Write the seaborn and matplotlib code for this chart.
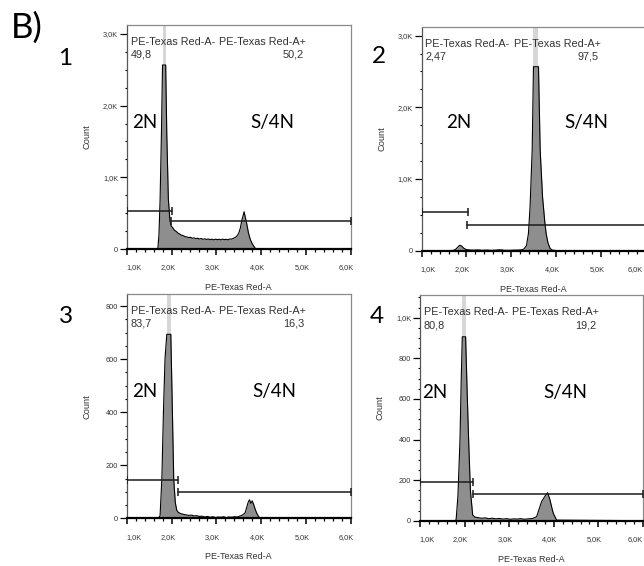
import matplotlib
matplotlib.use("Agg")
import matplotlib.pyplot as plt
import matplotlib.ticker as mticker
import matplotlib.transforms as mtransforms
import pandas as pd
import seaborn as sns

# ---------------- data ----------------
panel_ids = ["1", "2", "3", "4"]
gate_names = ["PE-Texas Red-A-", "PE-Texas Red-A+"]
phase_labels = ["2N", "S/4N"]
neg_pct = [49.8, 2.47, 83.7, 80.8]
pos_pct = [50.2, 97.5, 16.3, 19.2]
x_label = "PE-Texas Red-A"
y_label = "Count"
x_ticks = [1000, 2000, 3000, 4000, 5000, 6000]
y_ticks = [[0, 1000, 2000, 3000], [0, 1000, 2000, 3000],
           [0, 200, 400, 600, 800], [0, 200, 400, 600, 800, 1000]]

p1_signal = [1000, 1650, 1690, 1715, 1740, 1770, 1795, 1830, 1865, 1890,
             1925, 1960, 1990, 2020, 2060, 2100, 2140, 2180, 2220, 2260,
             2300, 2340, 2380, 2420, 2460, 2500, 2540, 2580, 2620, 2660,
             2700, 2740, 2780, 2820, 2860, 2900, 2940, 2980, 3020, 3060,
             3100, 3140, 3180, 3220, 3260, 3300, 3340, 3380, 3420, 3460,
             3500, 3535, 3570, 3600, 3620, 3640, 3670, 3700, 3720, 3760,
             3800, 3840, 3870, 3900, 6000]
p1_count = [0, 0, 5, 200, 680, 1600, 2566, 2566, 2566, 1600,
            700, 400, 320, 300, 262, 245, 222, 208, 192, 186,
            172, 168, 160, 163, 150, 155, 145, 150, 140, 146,
            136, 142, 133, 140, 130, 138, 128, 137, 130, 136,
            128, 138, 130, 135, 128, 140, 138, 149, 160, 181,
            220, 290, 405, 470, 520, 460, 380, 280, 218, 130,
            75, 35, 10, 0, 0]

p2_signal = [1000, 1650, 1700, 1750, 1800, 1840, 1870, 1900, 1940, 1980,
             2020, 2080, 2150, 2250, 2350, 2450, 2550, 2650, 2750, 2850,
             2950, 3050, 3150, 3220, 3280, 3340, 3385, 3420, 3468, 3497,
             3550, 3609, 3647, 3700, 3750, 3780, 3820, 3870, 3920, 4000,
             6000]
p2_count = [2, 2, 4, 15, 45, 72, 74, 60, 35, 20,
            14, 10, 8, 11, 6, 9, 5, 8, 13, 6,
            5, 8, 9, 12, 22, 70, 240, 600, 1400, 2566,
            2566, 2566, 1400, 750, 400, 240, 110, 30, 8, 2,
            0]

p3_signal = [1000, 1700, 1740, 1780, 1815, 1850, 1890, 1935, 1980, 2016,
             2045, 2080, 2114, 2150, 2200, 2260, 2320, 2380, 2440, 2500,
             2560, 2620, 2680, 2740, 2800, 2860, 2920, 2980, 3040, 3100,
             3160, 3220, 3280, 3340, 3400, 3460, 3520, 3580, 3640, 3680,
             3710, 3740, 3770, 3800, 3830, 3860, 3900, 3940, 3980, 6000]
p3_count = [0, 0, 10, 150, 400, 600, 694, 694, 694, 400,
            150, 60, 30, 22, 18, 15, 13, 11, 12, 9,
            10, 7, 8, 5, 7, 4, 6, 3, 5, 4,
            6, 3, 5, 4, 6, 5, 8, 12, 20, 42,
            60, 70, 56, 66, 54, 38, 20, 8, 0, 0]

p4_signal = [1000, 1780, 1810, 1850, 1897, 1925, 1948, 1985, 2023, 2055,
             2090, 2130, 2181, 2230, 2300, 2380, 2460, 2540, 2620, 2700,
             2780, 2860, 2940, 3020, 3100, 3180, 3260, 3340, 3420, 3480,
             3541, 3616, 3690, 3728, 3803, 3862, 3915, 3968, 3990, 4063,
             6000]
p4_count = [0, 0, 5, 120, 400, 700, 906, 906, 906, 650,
            400, 150, 28, 18, 15, 12, 14, 10, 12, 9,
            11, 8, 10, 7, 9, 8, 10, 7, 9, 10,
            12, 20, 70, 95, 121, 138, 102, 53, 36, 3,
            0]

neg_gate_start = [1000, 1000, 1000, 1000]
neg_gate_end = [2000, 2030, 2137, 2188]
neg_gate_level = [534, 535, 144, 190]
pos_gate_start = [1980, 2020, 2137, 2180]
pos_gate_end = [6000, 6000, 6000, 6000]
pos_gate_level = [390, 358, 100, 131]

signals = [p1_signal, p2_signal, p3_signal, p4_signal]
counts = [p1_count, p2_count, p3_count, p4_count]

# ---------------- layout / style ----------------
W, H = 644, 566
axes_px = [(127, 25, 350.5, 249), (421.7, 27, 645.5, 250.7),
           (127, 294, 350.5, 518.3), (420, 295, 643, 520.7)]
y_top = [3124, 3120, 846, 1112]
y_minor = [250, 250, 50, 50]
num_px = [(65.5, 65), (379, 63.3), (65.5, 323), (376.5, 323)]
lab2n_px = [(132, 128.3), (446, 128), (132, 397), (422, 397.7)]
lab4n_px = [(250, 128.3), (564, 128), (252, 397), (543, 397.7)]
# right-hand panels: keep the last x tick label inside the figure
last_label_right_px = [None, 643, None, 643]

FILL = "#8e8e8e"
BAND = "#d6d6d6"
BOX = "#8a8a8a"
TXT = "#333333"

sns.set_style("ticks")
plt.rcParams["font.family"] = ["Liberation Sans", "DejaVu Sans"]

fig = plt.figure(figsize=(W / 100, H / 100), dpi=100)
fig.patch.set_facecolor("white")


def fx(x):
    return x / W


def fy(y):
    return 1 - y / H


def kfmt(v, pos):
    if v >= 1000:
        return f"{v / 1000:.1f}K".replace(".", ",")
    return f"{int(v)}"


def pct(v):
    return f"{v}".replace(".", ",")


axes = []
for i in range(4):
    l, t, r, b = axes_px[i]
    ax = fig.add_axes([fx(l), fy(b), (r - l) / W, (b - t) / H])
    axes.append(ax)
    df = pd.DataFrame({"signal": signals[i], "count": counts[i]})

    top = df["count"] == df["count"].max()
    ax.fill_between(df.loc[top, "signal"], df["count"].max(), y_top[i],
                    color=BAND, lw=0, zorder=1)
    ax.fill_between(df["signal"], 0, df["count"], color=FILL, lw=0, zorder=2)
    sns.lineplot(data=df, x="signal", y="count", ax=ax, color="black",
                 lw=0.8, estimator=None, sort=False, zorder=3)

    for s, e, lv in ((neg_gate_start[i], neg_gate_end[i], neg_gate_level[i]),
                     (pos_gate_start[i], pos_gate_end[i], pos_gate_level[i])):
        ax.plot([s, e], [lv, lv], color="#1a1a1a", lw=1.1, marker="|",
                markersize=6, mew=1.1, zorder=4)

    ax.set_xlim(1000, 6000)
    ax.set_ylim(0, y_top[i])
    ax.xaxis.set_major_locator(mticker.FixedLocator(x_ticks))
    ax.xaxis.set_minor_locator(mticker.MultipleLocator(200))
    ax.yaxis.set_major_locator(mticker.FixedLocator(y_ticks[i]))
    ax.yaxis.set_minor_locator(mticker.MultipleLocator(y_minor[i]))
    ax.xaxis.set_major_formatter(mticker.FuncFormatter(kfmt))
    ax.yaxis.set_major_formatter(mticker.FuncFormatter(kfmt))

    ax.tick_params(axis="x", which="major", direction="out", length=4,
                   width=1.1, pad=7, labelsize=5.3, labelcolor=TXT,
                   color="black")
    ax.tick_params(axis="x", which="minor", direction="out", length=2.2,
                   width=0.9, color="black")
    ax.tick_params(axis="y", which="major", direction="out", length=5.2,
                   width=0.9, pad=1.2, labelsize=5.3, labelcolor=TXT,
                   color="black")
    ax.tick_params(axis="y", which="minor", direction="out", length=1.8,
                   width=0.8, color="black")

    for side in ("top", "right", "left"):
        ax.spines[side].set_color(BOX)
        ax.spines[side].set_linewidth(0.9)
    ax.spines["left"].set_color("#555555")
    ax.spines["bottom"].set_color("black")
    ax.spines["bottom"].set_linewidth(1.6)

    ax.set_xlabel(x_label, fontsize=6.5, color=TXT)
    ax.set_ylabel(y_label, fontsize=6.7, color=TXT)
    ax.xaxis.set_label_coords(0.5, -0.152)
    ax.yaxis.set_label_coords(-0.157, 0.5)

    shift = mtransforms.ScaledTranslation(-4 / 100, 0, fig.dpi_scale_trans)
    first = mtransforms.ScaledTranslation(-1 / 100, 0, fig.dpi_scale_trans)
    labels = ax.get_xticklabels()
    for k, lab in enumerate(labels):
        if k == 0:
            lab.set_ha("left")
            lab.set_transform(lab.get_transform() + first)
        elif k == len(labels) - 1 and last_label_right_px[i] is not None:
            lab.set_ha("right")
            dx = (last_label_right_px[i] - r) / 100
            lab.set_transform(lab.get_transform() + mtransforms.ScaledTranslation(
                dx, 0, fig.dpi_scale_trans))
        else:
            lab.set_transform(lab.get_transform() + shift)

    # gate names and percentages
    ax.text(0.016, 0.9125, gate_names[0], transform=ax.transAxes,
            fontsize=7.8, color=TXT, ha="left", va="baseline", zorder=5)
    ax.text(0.412, 0.9125, gate_names[1], transform=ax.transAxes,
            fontsize=7.8, color=TXT, ha="left", va="baseline", zorder=5)
    ax.text(0.016, 0.853, pct(neg_pct[i]), transform=ax.transAxes,
            fontsize=7.8, color=TXT, ha="left", va="baseline", zorder=5)
    ax.text(0.792, 0.853, pct(pos_pct[i]), transform=ax.transAxes,
            fontsize=7.8, color=TXT, ha="right", va="baseline", zorder=5)

    # phase annotations
    fig.text(fx(lab2n_px[i][0]), fy(lab2n_px[i][1]), phase_labels[0],
             family=["Lato", "DejaVu Sans"], fontsize=13.5, ha="left",
             va="baseline", color="black")
    fig.text(fx(lab4n_px[i][0]), fy(lab4n_px[i][1]), phase_labels[1],
             family=["Lato", "DejaVu Sans"], fontsize=13.5, ha="left",
             va="baseline", color="black")
    # panel number
    fig.text(fx(num_px[i][0]), fy(num_px[i][1]), panel_ids[i],
             family=["Lato", "DejaVu Sans"], fontsize=17.5, ha="center",
             va="baseline", color="black")

fig.text(fx(11), fy(37.5), "B)", family=["Lato", "DejaVu Sans"],
         fontsize=25, ha="left", va="baseline", color="black")

fig.savefig("out.png", dpi=100, facecolor="white")
